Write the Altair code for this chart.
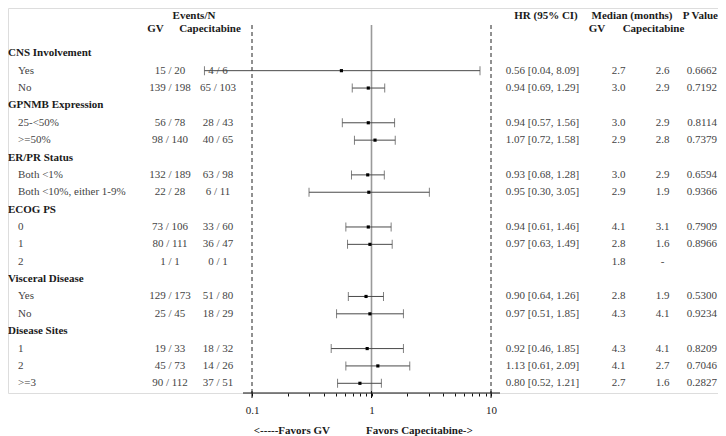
import altair as alt
import pandas as pd

labels = ["CNS Involvement", "Yes", "No", "GPNMB Expression", "25-<50%", ">=50%",
          "ER/PR Status", "Both <1%", "Both <10%, either 1-9%", "ECOG PS", "0", "1", "2",
          "Visceral Disease", "Yes", "No", "Disease Sites", "1", "2", ">=3"]
is_group = [1, 0, 0, 1, 0, 0, 1, 0, 0, 1, 0, 0, 0, 1, 0, 0, 1, 0, 0, 0]
gv_events = ["", "15 / 20", "139 / 198", "", "56 / 78", "98 / 140", "", "132 / 189", "22 / 28",
             "", "73 / 106", "80 / 111", "1 / 1", "", "129 / 173", "25 / 45", "", "19 / 33",
             "45 / 73", "90 / 112"]
cap_events = ["", "4 / 6", "65 / 103", "", "28 / 43", "40 / 65", "", "63 / 98", "6 / 11",
              "", "33 / 60", "36 / 47", "0 / 1", "", "51 / 80", "18 / 29", "", "18 / 32",
              "14 / 26", "37 / 51"]
hr = [None, 0.56, 0.94, None, 0.94, 1.07, None, 0.93, 0.95, None, 0.94, 0.97, None,
      None, 0.90, 0.97, None, 0.92, 1.13, 0.80]
lo = [None, 0.04, 0.69, None, 0.57, 0.72, None, 0.68, 0.30, None, 0.61, 0.63, None,
      None, 0.64, 0.51, None, 0.46, 0.61, 0.52]
hi = [None, 8.09, 1.29, None, 1.56, 1.58, None, 1.28, 3.05, None, 1.46, 1.49, None,
      None, 1.26, 1.85, None, 1.85, 2.09, 1.21]
med_gv = ["", "2.7", "3.0", "", "3.0", "2.9", "", "3.0", "2.9", "", "4.1", "2.8", "1.8",
          "", "2.8", "4.3", "", "4.3", "4.1", "2.7"]
med_cap = ["", "2.6", "2.9", "", "2.9", "2.8", "", "2.9", "1.9", "", "3.1", "1.6", "-",
           "", "1.9", "4.1", "", "4.1", "2.7", "1.6"]
pval = ["", "0.6662", "0.7192", "", "0.8114", "0.7379", "", "0.6594", "0.9366", "",
        "0.7909", "0.8966", "", "", "0.5300", "0.9234", "", "0.8209", "0.7046", "0.2827"]

ref_lines = [0.1, 1, 10]
ref_dashed = [1, 0, 1]
minor_ticks = [0.1, 0.2, 0.3, 0.4, 0.5, 0.6, 0.7, 0.8, 0.9, 1, 2, 3, 4, 5, 6, 7, 8, 9, 10]

hr_text = []
for h, l, u in zip(hr, lo, hi):
    hr_text.append("" if h is None else f"{h:.2f} [{l:.2f}, {u:.2f}]")

df = pd.DataFrame({
    "row": list(range(len(labels))),
    "label": labels,
    "group": is_group,
    "gv": gv_events,
    "cap": cap_events,
    "hr": hr, "lo": lo, "hi": hi,
    "hrtext": hr_text,
    "mgv": med_gv, "mcap": med_cap, "p": pval,
})
refdf = pd.DataFrame({"v": ref_lines, "dashed": ref_dashed})
one = pd.DataFrame({"a": [0]})

FONT = "Liberation Serif"
FS = 11
TXT = "#444444"
HDR = "#1a1a1a"

xs = alt.Scale(type="log", domain=[0.1, 10], range=[244, 483])
ys = alt.Scale(domain=[0, 19], range=[45.3, 375.3], zero=False, nice=False)
Y = alt.Y("row:Q", scale=ys, axis=None)

def col_text(field, x, align="center", bold=False, color=TXT):
    return alt.Chart(df).mark_text(
        font=FONT, fontSize=FS, align=align, baseline="middle",
        fontWeight="bold" if bold else "normal", color=color
    ).encode(x=alt.value(x), y=Y, text=f"{field}:N")

def hdr_text(t, x, y, align="center"):
    return alt.Chart(one).mark_text(
        font=FONT, fontSize=FS, align=align, baseline="middle",
        fontWeight="bold", color=HDR
    ).encode(x=alt.value(x), y=alt.value(y), text=alt.value(t))

group_lbl = alt.Chart(df).transform_filter("datum.group == 1").mark_text(
    font=FONT, fontSize=FS, align="left", baseline="middle", fontWeight="bold", color=HDR
).encode(x=alt.value(0), y=Y, text="label:N")
sub_lbl = alt.Chart(df).transform_filter("datum.group == 0").mark_text(
    font=FONT, fontSize=FS, align="left", baseline="middle", color=TXT
).encode(x=alt.value(10), y=Y, text="label:N")

T1 = 7.5
T2 = 20.5
texts = [
    group_lbl, sub_lbl,
    col_text("gv", 162), col_text("cap", 210),
    col_text("hrtext", 534.5), col_text("mgv", 610.5), col_text("mcap", 654.5),
    col_text("p", 709, align="right"),
    hdr_text("Events/N", 186, T1),
    hdr_text("GV", 147.5, T2), hdr_text("Capecitabine", 202, T2),
    hdr_text("HR (95% CI)", 538, T1),
    hdr_text("Median (months)", 624, T1),
    hdr_text("P Value", 710, T1, align="right"),
    hdr_text("GV", 589, T2), hdr_text("Capecitabine", 645.5, T2),
    hdr_text("<-----Favors GV", 322, 423, align="right"),
    hdr_text("Favors Capecitabine->", 358, 423, align="left"),
]

dashed = alt.Chart(refdf).transform_filter("datum.dashed == 1").mark_rule(
    color="#222", strokeWidth=1, strokeDash=[4, 3]
).encode(x=alt.X("v:Q", scale=xs), y=alt.value(17), y2=alt.value(385))
solid = alt.Chart(refdf).transform_filter("datum.dashed == 0").mark_rule(
    color="#9a9a9a", strokeWidth=1.6
).encode(x=alt.X("v:Q", scale=xs), y=alt.value(17), y2=alt.value(385))

axis_x = alt.X("v:Q", scale=xs, axis=alt.Axis(
    values=minor_ticks, domain=False, ticks=True, tickSize=3, tickColor="#111",
    labelExpr="datum.value == 0.1 ? '0.1' : (datum.value == 1 ? '1' : (datum.value == 10 ? '10' : ''))",
    labelFont=FONT, labelFontSize=FS, labelColor="#222", labelPadding=8,
    grid=False, title=None, labelFlush=False, labelOverlap=False))
axis_line = alt.Chart(one).mark_rule(color="#111", strokeWidth=1).encode(
    x=alt.value(235), x2=alt.value(492), y=alt.value(385))
major = alt.Chart(refdf).mark_rule(color="#111", strokeWidth=1).encode(
    x=axis_x, y=alt.value(383), y2=alt.value(390))

ci = alt.Chart(df).transform_filter("isValid(datum.hr)")
ci_line = ci.mark_rule(color="#4a4a4a", strokeWidth=1).encode(
    x=alt.X("lo:Q", scale=xs), x2="hi:Q", y=Y)
cap_lo = ci.mark_tick(orient="vertical", size=9, thickness=1, color="#4a4a4a").encode(
    x=alt.X("lo:Q", scale=xs), y=Y)
cap_hi = ci.mark_tick(orient="vertical", size=9, thickness=1, color="#4a4a4a").encode(
    x=alt.X("hi:Q", scale=xs), y=Y)
pts = ci.mark_square(size=10, color="#000", opacity=1).encode(
    x=alt.X("hr:Q", scale=xs), y=Y)

chart = alt.layer(
    *texts, dashed, solid, axis_line, major, ci_line, cap_lo, cap_hi, pts
).properties(
    width=710, height=385,
    autosize=alt.AutoSizeParams(type="none"),
    padding={"left": 0, "top": 0, "right": 0, "bottom": 43},
).configure_view(stroke=None).configure(background="white")

chart.save("out.html", embed_options={"renderer": "svg", "actions": False})
